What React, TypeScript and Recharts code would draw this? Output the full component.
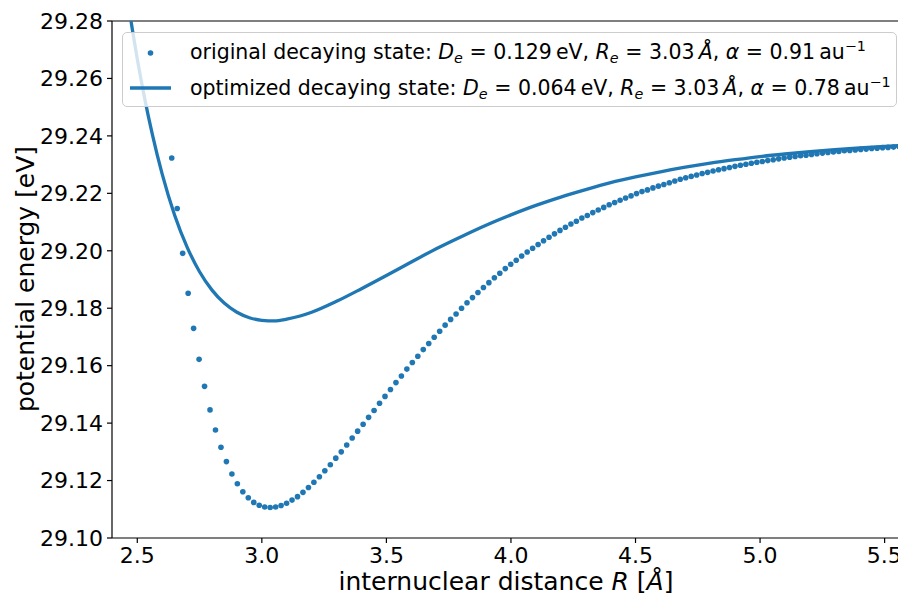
import React from "react";
import { ComposedChart, Line, ReferenceLine, Scatter, XAxis, YAxis } from "recharts";

const BLUE = "#1f77b4";

// original decaying state (dots)
const R_ORIG = [
  2.6383, 2.6603, 2.6822, 2.7042, 2.7261, 2.7481, 2.77, 2.792, 2.8139, 2.8359,
  2.8578, 2.8798, 2.9017, 2.9237, 2.9456, 2.9676, 2.9895, 3.0115, 3.0334, 3.0554,
  3.0773, 3.0993, 3.1212, 3.1432, 3.1651, 3.1871, 3.209, 3.231, 3.2529, 3.2749,
  3.2968, 3.3188, 3.3407, 3.3627, 3.3846, 3.4066, 3.4285, 3.4505, 3.4724, 3.4944,
  3.5163, 3.5383, 3.5602, 3.5822, 3.6041, 3.6261, 3.648, 3.67, 3.6919, 3.7139,
  3.7358, 3.7578, 3.7797, 3.8017, 3.8236, 3.8456, 3.8675, 3.8895, 3.9114, 3.9334,
  3.9553, 3.9773, 3.9992, 4.0212, 4.0431, 4.0651, 4.087, 4.109, 4.1309, 4.1529,
  4.1748, 4.1968, 4.2187, 4.2407, 4.2626, 4.2846, 4.3065, 4.3285, 4.3504, 4.3724,
  4.3943, 4.4163, 4.4382, 4.4602, 4.4821, 4.5041, 4.526, 4.548, 4.5699, 4.5919,
  4.6138, 4.6358, 4.6577, 4.6797, 4.7016, 4.7236, 4.7455, 4.7675, 4.7894, 4.8114,
  4.8333, 4.8553, 4.8772, 4.8992, 4.9211, 4.9431, 4.965, 4.987, 5.0089, 5.0309,
  5.0528, 5.0748, 5.0967, 5.1187, 5.1406, 5.1626, 5.1845, 5.2065, 5.2284, 5.2504,
  5.2723, 5.2943, 5.3162, 5.3382, 5.3601, 5.3821, 5.404, 5.426, 5.4479, 5.4699,
  5.4918, 5.5138, 5.5357, 5.5577,
];
const E_ORIG = [
  29.2323, 29.2147, 29.1991, 29.1852, 29.173, 29.1622, 29.1528, 29.1446, 29.1376, 29.1316,
  29.1266, 29.1223, 29.1189, 29.1161, 29.114, 29.1124, 29.1114, 29.1108, 29.1106, 29.1108,
  29.1113, 29.1121, 29.1132, 29.1144, 29.1159, 29.1176, 29.1194, 29.1213, 29.1234, 29.1255,
  29.1278, 29.13, 29.1324, 29.1348, 29.1372, 29.1396, 29.142, 29.1444, 29.1469, 29.1493,
  29.1517, 29.1541, 29.1564, 29.1588, 29.1611, 29.1633, 29.1656, 29.1677, 29.1699, 29.172,
  29.1741, 29.1761, 29.178, 29.18, 29.1819, 29.1837, 29.1855, 29.1872, 29.1889, 29.1906,
  29.1922, 29.1938, 29.1953, 29.1967, 29.1982, 29.1996, 29.2009, 29.2022, 29.2035, 29.2047,
  29.2059, 29.2071, 29.2082, 29.2093, 29.2103, 29.2114, 29.2123, 29.2133, 29.2142, 29.2151,
  29.216, 29.2168, 29.2176, 29.2184, 29.2191, 29.2199, 29.2206, 29.2212, 29.2219, 29.2225,
  29.2231, 29.2237, 29.2243, 29.2249, 29.2254, 29.2259, 29.2264, 29.2269, 29.2273, 29.2278,
  29.2282, 29.2286, 29.229, 29.2294, 29.2298, 29.2301, 29.2305, 29.2308, 29.2311, 29.2314,
  29.2317, 29.232, 29.2323, 29.2326, 29.2328, 29.2331, 29.2333, 29.2335, 29.2338, 29.234,
  29.2342, 29.2344, 29.2346, 29.2348, 29.2349, 29.2351, 29.2353, 29.2354, 29.2356, 29.2357,
  29.2359, 29.236, 29.2361, 29.2363,
];

// optimized decaying state (solid line)
const R_OPT = [
  2.4, 2.42, 2.44, 2.46, 2.48, 2.5, 2.53, 2.56, 2.6, 2.65, 2.7, 2.75, 2.8, 2.85, 2.9,
  2.95, 3.0, 3.05, 3.1, 3.15, 3.2, 3.3, 3.4, 3.5, 3.6, 3.7, 3.8, 3.9, 4.0, 4.1, 4.2,
  4.3, 4.4, 4.5, 4.6, 4.7, 4.8, 4.9, 5.0, 5.1, 5.2, 5.3, 5.4, 5.5, 5.56,
];
const E_OPT = [
  29.3278, 29.3136, 29.3005, 29.2883, 29.2771, 29.2668, 29.2529, 29.2407, 29.2267, 29.2124,
  29.2013, 29.1927, 29.1863, 29.1817, 29.1786, 29.1767, 29.1758, 29.1756, 29.1762, 29.1772,
  29.1786, 29.1824, 29.1868, 29.1914, 29.1961, 29.2007, 29.2049, 29.2089, 29.2125, 29.2158,
  29.2187, 29.2213, 29.2237, 29.2257, 29.2275, 29.2291, 29.2305, 29.2317, 29.2328, 29.2337,
  29.2345, 29.2352, 29.2358, 29.2363, 29.2366,
];

const X_TICKS = [2.5, 3.0, 3.5, 4.0, 4.5, 5.0, 5.5];
const Y_TICKS = [29.1, 29.12, 29.14, 29.16, 29.18, 29.2, 29.22, 29.24, 29.26, 29.28];

const origData = R_ORIG.map((r, i) => ({ r, e: E_ORIG[i] }));
const optData = R_OPT.map((r, i) => ({ r, e: E_OPT[i] }));

const FONT = "'DejaVu Sans', sans-serif";
const subStyle: React.CSSProperties = { fontSize: "0.7em", verticalAlign: "-0.25em", lineHeight: 0, fontStyle: "italic" };
const supStyle: React.CSSProperties = { fontSize: "0.7em", verticalAlign: "0.55em", lineHeight: 0 };

function Dot(props: any) {
  if (props.cx == null || props.cy == null) return null;
  return <circle cx={props.cx} cy={props.cy} r={2.8} fill={BLUE} />;
}

function MathPart({ de, alpha }: { de: string; alpha: string }) {
  return (
    <>
      <i>D</i>
      <span style={subStyle}>e</span> = {de}&thinsp;eV, <i>R</i>
      <span style={subStyle}>e</span> = 3.03&thinsp;<i>Å</i>, <i>α</i> = {alpha}&thinsp;au
      <span style={supStyle}>−1</span>
    </>
  );
}

const rowStyle: React.CSSProperties = {
  position: "absolute", left: 67, fontSize: 20.5, lineHeight: "24px", whiteSpace: "nowrap", color: "#000",
};

export default function App() {
  return (
    <div style={{ position: "absolute", left: 0, top: 0, width: 898, height: 596, background: "#fff", fontFamily: FONT, overflow: "hidden" }}>
      <ComposedChart width={898} height={596} margin={{ top: 21, right: 0, bottom: 0, left: 0 }}>
        <XAxis
          dataKey="r"
          type="number"
          domain={[2.3985, 5.5537]}
          allowDataOverflow
          ticks={X_TICKS}
          tickFormatter={(v: number) => v.toFixed(1)}
          height={58}
          stroke="#000"
          strokeWidth={1.2}
          tickSize={5}
          tickMargin={4}
          tick={{ fill: "#000", fontSize: 22, fontFamily: FONT }}
        />
        <YAxis
          dataKey="e"
          type="number"
          domain={[29.1, 29.28]}
          allowDataOverflow
          ticks={Y_TICKS}
          tickFormatter={(v: number) => v.toFixed(2)}
          width={112}
          stroke="#000"
          strokeWidth={1.2}
          tickSize={5}
          tickMargin={4}
          tick={{ fill: "#000", fontSize: 22, fontFamily: FONT }}
        />
        <ReferenceLine y={29.28} stroke="#000" strokeWidth={1.2} />
        <Line data={optData} dataKey="e" type="monotone" stroke={BLUE} strokeWidth={3.3} dot={false} isAnimationActive={false} />
        <Scatter data={origData} dataKey="e" fill={BLUE} shape={<Dot />} isAnimationActive={false} />
      </ComposedChart>

      <div
        style={{
          position: "absolute", left: 122, top: 32, width: 775, height: 75, boxSizing: "border-box",
          border: "1px solid #cccccc", borderRadius: 5, background: "rgba(255,255,255,0.8)",
        }}
      >
        <svg width={60} height={75} style={{ position: "absolute", left: 0, top: 0 }}>
          <circle cx={27.5} cy={20} r={2.8} fill={BLUE} />
          <line x1={7} x2={48} y1={55} y2={55} stroke={BLUE} strokeWidth={3.3} />
        </svg>
        <div style={{ ...rowStyle, top: 7 }}>
          original decaying state: <MathPart de="0.129" alpha="0.91" />
        </div>
        <div style={{ ...rowStyle, top: 43 }}>
          optimized decaying state: <MathPart de="0.064" alpha="0.78" />
        </div>
      </div>

      <div style={{ position: "absolute", left: 506, top: 581, transform: "translate(-50%, -50%)", fontSize: 25, whiteSpace: "nowrap", color: "#000" }}>
        internuclear distance <i>R</i> [<i>Å</i>]
      </div>
      <div style={{ position: "absolute", left: 25, top: 279, transform: "translate(-50%, -50%) rotate(-90deg)", fontSize: 25, whiteSpace: "nowrap", color: "#000" }}>
        potential energy [eV]
      </div>
    </div>
  );
}
